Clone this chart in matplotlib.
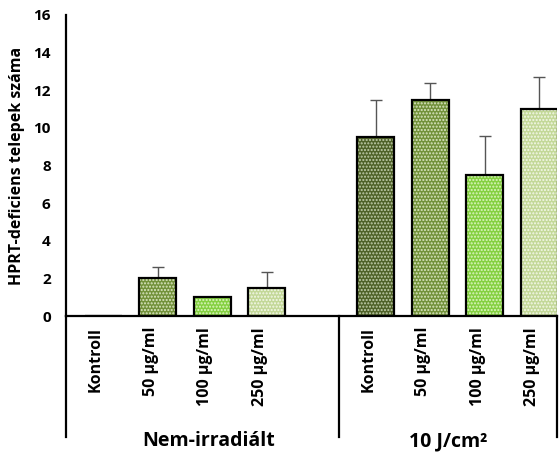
import numpy as np
import matplotlib
matplotlib.use('Agg')
import matplotlib.pyplot as plt
import matplotlib.transforms as mtransforms

plt.rcParams['font.family'] = ['Open Sans', 'DejaVu Sans']
plt.rcParams['font.weight'] = 'bold'
plt.rcParams['hatch.linewidth'] = 1.0

# Colony counts per treatment, two irradiation groups
groups = ['Nem-irradiált', '10 J/cm²']
doses = ['Kontroll', '50 µg/ml', '100 µg/ml', '250 µg/ml']
means_nonirr = [0.0, 2.0, 1.0, 1.5]
err_nonirr = [0.0, 0.6, 0.0, 0.85]
means_irr = [9.5, 11.5, 7.5, 11.0]
err_irr = [2.0, 0.9, 2.05, 1.7]

fill_colors = ['#4f6228', '#72913a', '#84d040', '#c3d898']
dot_colors = ['#c3cfae', '#dbe6c4', '#dcf5c2', '#f4f8ea']

pos = np.array([0, 1, 2, 3, 5, 6, 7, 8])
means = means_nonirr + means_irr
errs = err_nonirr + err_irr
colors = fill_colors * 2
dots = dot_colors * 2
labels = doses * 2

fig = plt.figure(figsize=(5.6, 4.53), dpi=100)
ax = fig.add_axes([0.1179, 0.3024, 0.8768, 0.6645])

width = 0.68
# filled bars with a light dotted texture, then black outlines on top
ax.bar(pos, means, width, color=colors, edgecolor=dots, hatch='.....', linewidth=0, zorder=2)
ax.bar(pos, means, width, fill=False, edgecolor='black', linewidth=1.6, zorder=3)
ax.errorbar(pos, means, yerr=[np.zeros(len(errs)), errs], fmt='none',
            ecolor='#555555', elinewidth=1.0, capsize=4, capthick=1.0, zorder=1)

x_left, x_div, x_right = -0.68, 4.33, 8.33
ax.set_xlim(x_left, x_right)
ax.set_ylim(0, 16)
ax.set_yticks(np.arange(0, 17, 2))
ax.tick_params(axis='y', length=0, pad=11, labelsize=11)
ax.set_ylabel('HPRT-deficiens telepek száma', fontsize=11.5, fontweight='bold', labelpad=6)

ax.set_xticks(pos)
ax.set_xticklabels(labels, rotation=90, fontsize=11.5, va='top')
ax.tick_params(axis='x', length=0, pad=8)
shift = mtransforms.ScaledTranslation(-7 / 100, 0, fig.dpi_scale_trans)
for lab in ax.get_xticklabels():
    lab.set_transform(lab.get_transform() + shift)

for side in ['top', 'right']:
    ax.spines[side].set_visible(False)
ax.spines['left'].set_linewidth(1.6)
ax.spines['bottom'].set_linewidth(1.6)

# group separators below the category axis
trans = mtransforms.blended_transform_factory(ax.transData, ax.transAxes)
for xv in [x_left, x_div, x_right]:
    ax.plot([xv, xv], [0, -0.402], color='black', linewidth=1.6,
            transform=trans, clip_on=False)

ax.text((x_left + x_div) / 2 + 0.12, -0.432, groups[0], transform=trans,
        ha='center', va='baseline', fontsize=14, fontweight='bold')
ax.text((x_div + x_right) / 2, -0.432, groups[1], transform=trans,
        ha='center', va='baseline', fontsize=14, fontweight='bold')

fig.savefig('out.png', dpi=100)
